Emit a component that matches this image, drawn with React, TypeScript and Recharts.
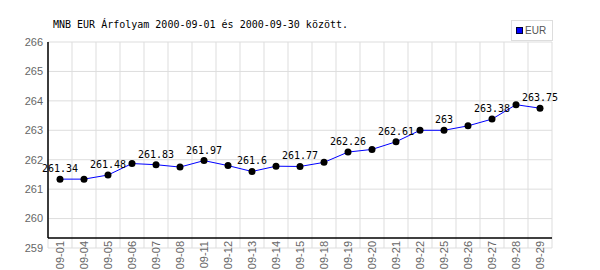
import { LineChart, Line, XAxis, YAxis, CartesianGrid, ReferenceLine, LabelList } from "recharts";

const dates = [
  "09-01", "09-04", "09-05", "09-06", "09-07", "09-08", "09-11", "09-12", "09-13", "09-14", "09-15",
  "09-18", "09-19", "09-20", "09-21", "09-22", "09-25", "09-26", "09-27", "09-28", "09-29",
];
const eurRates = [
  261.34, 261.34, 261.48, 261.87, 261.83, 261.75, 261.97, 261.8, 261.6, 261.78, 261.77,
  261.91, 262.26, 262.35, 262.61, 263.0, 263.0, 263.15, 263.38, 263.87, 263.75,
];
const yTicks = [259, 260, 261, 262, 263, 264, 265, 266];
const edgeTicks = Array.from({ length: dates.length + 1 }, (_, i) => i);

const data = dates.map((d, i) => ({ date: d, eur: eurRates[i] }));

const XTick = (props: any) => {
  const { x, y, payload } = props;
  return (
    <text
      transform={`translate(${x},${y - 7}) rotate(-90)`}
      textAnchor="end"
      dy="0.35em"
      fontSize={11}
      fontFamily="Liberation Sans, Arial, sans-serif"
      fill="#666"
    >
      {payload.value}
    </text>
  );
};

const PointLabel = (props: any) => {
  const { x, y, value, index } = props;
  if (index % 2 !== 0) return null;
  return (
    <text
      x={x}
      y={y - 7}
      textAnchor="middle"
      fontSize={10}
      fontFamily="DejaVu Sans Mono, monospace"
      fill="#000"
    >
      {value}
    </text>
  );
};

export default function App() {
  return (
    <div style={{ position: "absolute", left: 0, top: 0, width: 600, height: 270, background: "#fff", overflow: "hidden" }}>
      <div
        style={{
          position: "absolute",
          left: 53,
          top: 18,
          fontFamily: "DejaVu Sans Mono, monospace",
          fontSize: 10,
          color: "#000",
          whiteSpace: "nowrap",
          lineHeight: "14px",
        }}
      >
        MNB EUR Árfolyam 2000-09-01 és 2000-09-30 között.
      </div>
      <div
        style={{
          position: "absolute",
          left: 511,
          top: 20,
          width: 40,
          height: 19,
          border: "1px solid #ddd",
          background: "#fff",
          display: "flex",
          alignItems: "center",
          fontFamily: "Liberation Sans, Arial, sans-serif",
          fontSize: 10,
          color: "#555",
          zIndex: 2,
        }}
      >
        <span style={{ display: "inline-block", width: 5, height: 5, background: "#0000ff", border: "1px solid #003", marginLeft: 4, marginRight: 2 }} />
        EUR
      </div>
      <LineChart width={600} height={270} data={data} margin={{ top: 42, right: 48, bottom: 0, left: 0 }}>
        <CartesianGrid
          stroke="#dddddd"
          verticalCoordinatesGenerator={({ offset }: any) =>
            edgeTicks.map((i) => offset.left + (i * offset.width) / dates.length)
          }
        />
        <XAxis
          dataKey="date"
          interval={0}
          padding={{ left: 12, right: 12 }}
          axisLine={false}
          tickLine={false}
          tickSize={0}
          tickMargin={0}
          height={22}
          tick={<XTick />}
        />
        <XAxis xAxisId="edge" type="number" domain={[0, dates.length]} ticks={edgeTicks} hide />
        <YAxis
          domain={[259, 266]}
          ticks={yTicks}
          interval={0}
          width={48}
          axisLine={false}
          tickLine={false}
          tickSize={0}
          tickMargin={5}
          tick={{ fontSize: 11, fill: "#666", fontFamily: "Liberation Sans, Arial, sans-serif" }}
        />
        <ReferenceLine xAxisId="edge" y={259.34} stroke="#000" strokeWidth={1.5} />
        <ReferenceLine
          xAxisId="edge"
          segment={[
            { x: 0, y: 259.34 },
            { x: 0, y: 266 },
          ]}
          stroke="#000"
          strokeWidth={1.5}
        />
        <Line
          type="linear"
          dataKey="eur"
          stroke="#0000ff"
          strokeWidth={1}
          dot={{ r: 3.5, fill: "#000", stroke: "none" }}
          isAnimationActive={false}
        >
          <LabelList dataKey="eur" content={<PointLabel />} />
        </Line>
      </LineChart>
    </div>
  );
}
